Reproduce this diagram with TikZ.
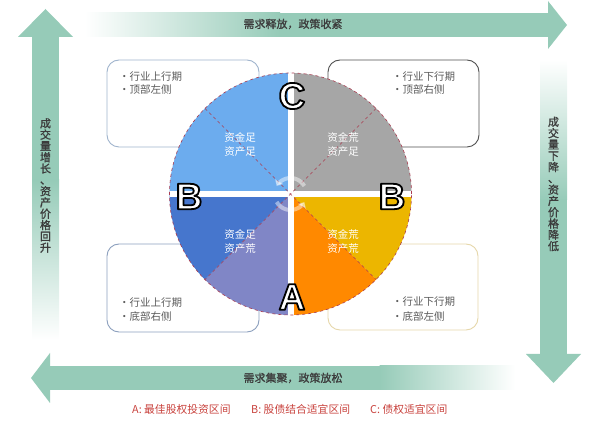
\documentclass[tikz,border=0pt]{standalone}
\usepackage{fontspec}
\setmainfont{Noto Sans CJK SC}
\newfontfamily\cjkb[FakeBold=1.2]{Noto Sans CJK SC}
\newfontfamily\lettfont{Liberation Sans}
\usetikzlibrary{arrows.meta}
\newcommand{\outlinedtext}[1]{\special{pdf:literal direct 2 Tr 1.8 w 1 j 0 0 0 RG}#1\special{pdf:literal direct 0 Tr}}
\definecolor{ag}{RGB}{150,203,184}
\definecolor{qtl}{RGB}{108,172,238}
\definecolor{qtr}{RGB}{166,166,166}
\definecolor{qbrY}{RGB}{236,182,0}
\definecolor{qbrO}{RGB}{255,137,0}
\definecolor{qblB}{RGB}{70,118,205}
\definecolor{qblP}{RGB}{128,134,198}
\definecolor{dashred}{RGB}{170,60,80}
\definecolor{txtgray}{RGB}{90,90,90}
\definecolor{lblgray}{RGB}{60,60,60}
\definecolor{legred}{RGB}{200,65,60}
\definecolor{bTL}{RGB}{160,180,205}
\definecolor{bTR}{RGB}{80,80,80}
\definecolor{bBL}{RGB}{140,160,190}
\definecolor{bBR}{RGB}{230,215,170}
\begin{document}
\begin{tikzpicture}[x=1pt,y=-1pt,
  lbl/.style={inner sep=0pt, text=lblgray, font=\cjkb\fontsize{11}{11}\selectfont},
  vlbl/.style={inner sep=0pt, text=lblgray, align=center, font=\cjkb\fontsize{11}{11.3}\selectfont},
  infobox/.style={rounded corners=12pt, line width=0.9pt, fill=white},
  boxtxt/.style={anchor=west, inner sep=0pt, text=txtgray, font=\fontsize{10.5}{10.5}\selectfont},
  quadtxt/.style={inner sep=0pt, text=white, align=center, font=\fontsize{10.5}{14}\selectfont},
  bigletter/.style={inner sep=0pt, text=white, font=\lettfont\bfseries\fontsize{37}{37}\selectfont},
  dline/.style={draw=dashred, dashed, line width=0.6pt},
  leg/.style={anchor=west, inner sep=0pt, text=legred, font=\fontsize{10.8}{10.8}\selectfont}]
\useasboundingbox (0,0) rectangle (600,427);
% top arrow (right)
\shade[left color=white,right color=ag] (85,13) rectangle (280,37);
\fill[ag] (279.5,13) rectangle (548,37);
\fill[ag] (548,1) -- (567,25) -- (548,49) -- cycle;
% left arrow (up)
\fill[ag] (32,37) rectangle (59,181);
\shade[top color=ag,bottom color=white] (32,180) rectangle (59,340);
\fill[ag] (18,37) -- (45.5,9) -- (73,37) -- cycle;
% right arrow (down)
\shade[top color=white,bottom color=ag] (540,60) rectangle (567,200);
\fill[ag] (540,199.5) rectangle (567,355);
\fill[ag] (526,354) -- (553.5,383) -- (581,354) -- cycle;
% bottom arrow (left)
\fill[ag] (50,366) rectangle (380,390);
\shade[left color=ag,right color=white] (379.5,366) rectangle (515,390);
\fill[ag] (50,353) -- (31,378) -- (50,403) -- cycle;
% arrow labels
\node[lbl] (toptxt) at (293,24) {需求释放，政策收紧};
\node[lbl] (bottxt) at (293,378) {需求集聚，政策放松};
\node[vlbl] (lefttxt) at (45.5,185.5) {成\\交\\量\\增\\长\\、\\资\\产\\价\\格\\回\\升};
\node[vlbl] (righttxt) at (553.5,184) {成\\交\\量\\下\\降\\、\\资\\产\\价\\格\\降\\低};
% boxes
\draw[infobox, draw=bTL] (107,60) rectangle (259,147);
\draw[infobox, draw=bTR] (328,60) rectangle (479,147);
\draw[infobox, draw=bBL] (107,244) rectangle (259,332);
\draw[infobox, draw=bBR] (328,244) rectangle (478,330);
\node[boxtxt] (tl1) at (119,77) {·行业上行期};
\node[boxtxt] (tl2) at (119,90) {·顶部左侧};
\node[boxtxt] (tr1) at (392,77) {·行业下行期};
\node[boxtxt] (tr2) at (392,90) {·顶部右侧};
\node[boxtxt] (bl1) at (119,303) {·行业上行期};
\node[boxtxt] (bl2) at (119,317) {·底部右侧};
\node[boxtxt] (br1) at (392,302) {·行业下行期};
\node[boxtxt] (br2) at (392,317) {·底部左侧};
% circle
\begin{scope}[shift={(290.5,194)}, y=1pt]
  \fill[qtl] (0,0) -- (90:121) arc (90:180:121) -- cycle;
  \fill[qtr] (0,0) -- (0:121) arc (0:90:121) -- cycle;
  \fill[qbrY] (0,0) -- (-45:121) arc (-45:0:121) -- cycle;
  \fill[qbrO] (0,0) -- (-90:121) arc (-90:-45:121) -- cycle;
  \fill[qblP] (0,0) -- (-135:121) arc (-135:-90:121) -- cycle;
  \fill[qblB] (0,0) -- (180:121) arc (180:225:121) -- cycle;
  \fill[white] (-3,-121) rectangle (3,121);
  \fill[white] (-121,-3) rectangle (121,3);
  \draw[dline] (135:121) -- (-45:121);
  \draw[dline] (45:121) -- (-135:121);
  \draw[dline] (0,0) circle (121);
  \draw[white, opacity=0.45, line width=4pt, -{Triangle[width=9pt,length=5pt]}] (30:16) arc (30:150:16);
  \draw[white, opacity=0.45, line width=4pt, -{Triangle[width=9pt,length=5pt]}] (210:16) arc (210:330:16);
  \node[quadtxt] (qa) at (-50.5,49) {资金足\\资产足};
  \node[quadtxt] (qb) at (52.5,49) {资金荒\\资产足};
  \node[quadtxt] (qc) at (-50.5,-47.5) {资金足\\资产荒};
  \node[quadtxt] (qd) at (52.5,-47.5) {资金荒\\资产荒};
  \node[bigletter] (lC) at (1.5,98) {\outlinedtext{C}};
  \node[bigletter] (lA) at (1.5,-103) {\outlinedtext{A}};
  \node[bigletter] (lBl) at (-101.5,-2.5) {\outlinedtext{B}};
  \node[bigletter] (lBr) at (101.5,-2.5) {\outlinedtext{B}};
\end{scope}
% legend
\node[leg] (legA) at (132,409) {A: 最佳股权投资区间};
\node[leg] (legB) at (251,409) {B: 股债结合适宜区间};
\node[leg] (legC) at (370,409) {C: 债权适宜区间};
\end{tikzpicture}
\end{document}
